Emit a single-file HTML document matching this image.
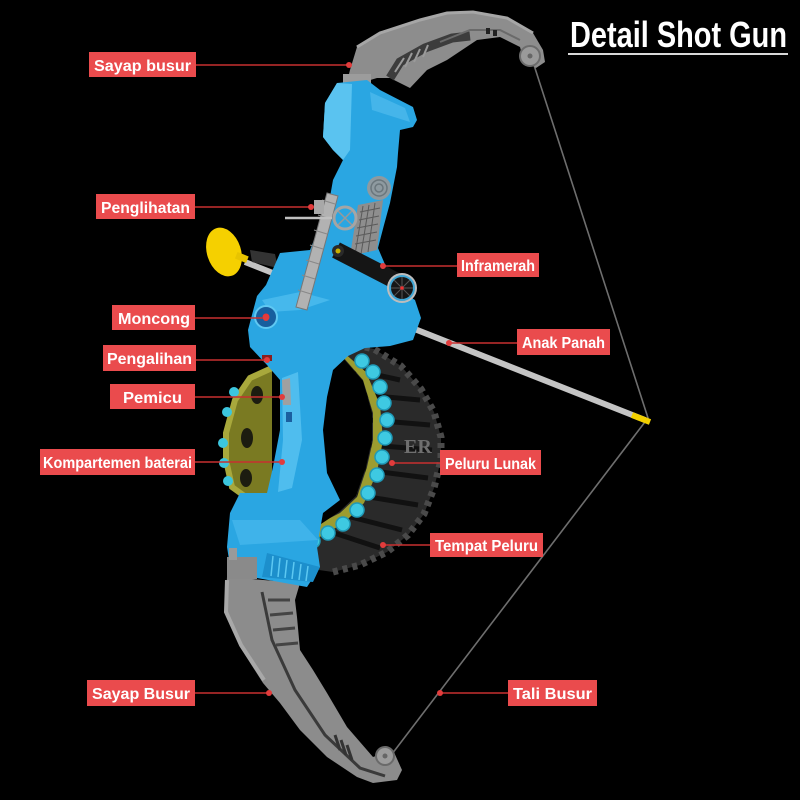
<!DOCTYPE html>
<html><head><meta charset="utf-8"><style>
html,body{margin:0;padding:0;background:#000;}
svg{display:block;}
.lb{font-family:"Liberation Sans",sans-serif;font-weight:bold;fill:#fff;font-size:16px;}
</style></head><body>
<svg width="800" height="800" viewBox="0 0 800 800" xmlns="http://www.w3.org/2000/svg">
<rect width="800" height="800" fill="#000"/>

<!-- string -->
<polyline points="533,62 648,418 392,754" fill="none" stroke="#6e6e6e" stroke-width="1.6"/>

<!-- top limb -->
<path d="M347,82 L350,70 L357,47 L380,33 L420,20 L447,13 L473,12 L507,18 L533,33 L543,50 L545,62 L536,68 L523,58 L520,47 L500,37 L477,40 L447,60 L427,70 L410,88 L390,78 L377,78 L367,81 Z" fill="#8d8d8d"/>
<path d="M357,47 L380,33 L420,20 L447,13 L473,12 L507,18 L533,33" fill="none" stroke="#a6a6a6" stroke-width="3"/>
<path d="M390,78 L400,62 L425,48 L452,38 L470,36" fill="none" stroke="#3c3c3c" stroke-width="9"/>
<path d="M395,72 L404,58 M405,67 L412,53 M414,62 L420,49 M423,57 L428,45" stroke="#9a9a9a" stroke-width="2"/>
<path d="M440,42 L470,30 L500,30 L520,40" fill="none" stroke="#6a6a6a" stroke-width="2"/>
<rect x="486" y="28" width="4" height="6" fill="#222"/><rect x="493" y="30" width="4" height="6" fill="#222"/>
<circle cx="530" cy="56" r="10" fill="#9a9a9a" stroke="#6c6c6c" stroke-width="2"/>
<circle cx="530" cy="56" r="2.5" fill="#666"/>
<rect x="343" y="74" width="28" height="12" fill="#9c9c9c"/>

<!-- bottom limb -->
<path d="M227,577 L225,612 L240,647 L263,683 L280,703 L300,730 L327,757 L357,777 L373,783 L397,780 L402,770 L393,750 L373,757 L347,727 L327,693 L313,670 L300,650 L297,617 L295,600 L300,583 Z" fill="#8c8c8c"/>
<path d="M227,580 L226,612 L241,645 L264,680" fill="none" stroke="#a8a8a8" stroke-width="4"/>
<path d="M262,592 L272,640 L295,690 L325,735 L360,768 L385,776" fill="none" stroke="#3a3a3a" stroke-width="3"/>
<path d="M268,600 L290,600 M270,615 L293,613 M273,630 L295,628 M276,645 L298,643" stroke="#444" stroke-width="3"/>
<path d="M335,735 L340,750 M341,740 L346,755 M347,745 L352,760" stroke="#333" stroke-width="3"/>
<circle cx="385" cy="756" r="9" fill="#9c9c9c" stroke="#6a6a6a" stroke-width="2"/>
<circle cx="385" cy="756" r="2.5" fill="#666"/>

<!-- wheel dark ring -->
<path d="M305,568 L333,572 L360,565 L387,552 L408,535 L424,514 L434,488 L441,460 L441,437 L434,412 L421,389 L401,366 L374,349 L343,342 L320,350 L300,545 Z" fill="#2a2a2a"/>
<path d="M333,572 L360,565 L387,552 L408,535 L424,514 L434,488 L441,460 L441,437 L434,412 L421,389 L401,366 L374,349 L343,342" fill="none" stroke="#4a4a4a" stroke-width="7" stroke-dasharray="5 5"/>
<path d="M355,370 L400,380 M365,395 L420,400 M370,420 L430,425 M370,445 L432,450 M365,470 L428,478 M357,495 L418,505 M343,515 L402,530 M325,530 L380,548" stroke="#111" stroke-width="5"/>
<!-- green band -->
<path d="M343,352 L366,372 L380,405 L383,440 L377,472 L364,503 L344,523 L318,538 L296,543 L296,535 L340,513 L357,497 L367,467 L373,440 L373,413 L363,380 L343,357 Z" fill="#9c9c30"/>
<!-- hole -->
<path d="M343,358 L363,381 L372,413 L372,440 L366,467 L356,496 L339,512 L318,526 L298,533 L300,365 Z" fill="#000"/>

<!-- left green interior -->
<path d="M272,368 L250,378 L235,400 L226,433 L226,460 L232,487 L250,500 L272,496 Z" fill="#7a7a22"/>
<path d="M272,368 L250,378 L235,400 L226,433 L226,460 L232,487 L250,500" fill="none" stroke="#a8a83c" stroke-width="6"/>
<ellipse cx="257" cy="395" rx="6" ry="9" fill="#1c1c10"/>
<ellipse cx="247" cy="438" rx="6" ry="10" fill="#1c1c10"/>
<ellipse cx="246" cy="478" rx="6" ry="9" fill="#1c1c10"/>
<g fill="#3cc6de">
<circle cx="234" cy="392" r="5"/><circle cx="227" cy="412" r="5"/><circle cx="223" cy="443" r="5"/><circle cx="224" cy="463" r="5"/><circle cx="228" cy="481" r="5"/>
</g>

<!-- cyan dart tips -->
<g fill="#3ec9e2" stroke="#1f9ab8" stroke-width="1.5">
<circle cx="362" cy="361" r="7"/><circle cx="373" cy="372" r="7"/><circle cx="380" cy="387" r="7"/><circle cx="384" cy="403" r="7"/><circle cx="387" cy="420" r="7"/><circle cx="385" cy="438" r="7"/><circle cx="382" cy="457" r="7"/><circle cx="377" cy="475" r="7"/><circle cx="368" cy="493" r="7"/><circle cx="357" cy="510" r="7"/><circle cx="343" cy="524" r="7"/><circle cx="328" cy="533" r="7"/><circle cx="313" cy="541" r="7"/><circle cx="300" cy="545" r="7"/>
</g>
<text x="404" y="453" font-family="Liberation Serif,serif" font-size="20" fill="#6f6f6f" font-weight="bold">ER</text>

<!-- arrow -->
<line x1="245" y1="262" x2="645" y2="420" stroke="#c4c4c4" stroke-width="6"/>
<line x1="632" y1="415" x2="650" y2="422" stroke="#f2d000" stroke-width="6"/>
<ellipse cx="224" cy="252" rx="17" ry="25" transform="rotate(-18 224 252)" fill="#f5d000"/>
<rect x="236" y="254" width="12" height="7" fill="#e8c400" transform="rotate(22 242 257)"/>
<path d="M250,250 L275,254 L278,268 L252,262 Z" fill="#333"/>

<!-- blue body -->
<path d="M337,83 L367,80 L380,90 L413,107 L417,120 L413,127 L400,130 L398,153 L397,167 L390,203 L384,225 L378,248 L395,288 L415,300 L421,318 L413,340 L390,346 L365,348 L348,356 L333,370 L327,397 L323,430 L327,473 L340,500 L323,513 L317,547 L320,567 L307,587 L257,578 L230,566 L227,547 L230,513 L240,493 L267,493 L273,467 L280,430 L280,380 L267,365 L250,347 L248,330 L257,296 L266,285 L280,253 L310,250 L320,225 L330,197 L333,180 L343,160 L333,150 L323,137 L325,103 Z" fill="#2aa6e2"/>
<!-- highlights -->
<path d="M337,83 L352,84 L350,150 L343,160 L333,150 L323,137 L325,103 Z" fill="#5ac3f0"/>
<path d="M282,378 L298,372 L302,440 L292,488 L278,492 L283,440 Z" fill="#4fbdee"/>
<path d="M370,92 L405,108 L410,122 L372,110 Z" fill="#45b5ea"/>
<path d="M262,300 L300,292 L330,300 L300,310 L270,312 Z" fill="#46b8ec"/>
<path d="M232,520 L300,520 L318,540 L240,545 Z" fill="#3fb3ea"/>
<!-- lower grille -->
<path d="M267,553 L320,567 L313,582 L262,577 Z" fill="#1c8fcc"/>
<path d="M273,556 L271,576 M280,558 L278,577 M287,560 L285,578 M294,562 L292,579 M301,564 L299,580 M308,566 L306,581" stroke="#5cc8f2" stroke-width="1.5"/>
<rect x="227" y="557" width="30" height="22" fill="#8a8a8a"/>
<rect x="229" y="548" width="8" height="12" fill="#9a9a9a"/>
<!-- target emblem -->
<circle cx="379" cy="188" r="12" fill="#8e9aa0"/>
<circle cx="379" cy="188" r="8" fill="none" stroke="#6a767c" stroke-width="1.5"/>
<circle cx="379" cy="188" r="4" fill="none" stroke="#6a767c" stroke-width="1.5"/>
<!-- grid panel -->
<path d="M358,205 L383,200 L377,250 L350,256 Z" fill="#8e8e8e"/>
<path d="M360,212 L380,208 M359,220 L379,216 M357,228 L378,224 M356,236 L377,232 M355,244 L376,240 M363,206 L355,255 M369,205 L361,254 M375,203 L368,252" stroke="#5a5a5a" stroke-width="1"/>
<!-- muzzle -->
<circle cx="266" cy="317" r="11" fill="#175e9e" stroke="#5fc8f2" stroke-width="2"/>
<circle cx="266" cy="317" r="3.5" fill="#e33"/>
<rect x="262" y="355" width="10" height="6" fill="#8a1e1e"/>
<!-- trigger -->
<path d="M282,380 L290,378 L291,405 L283,405 Z" fill="#a0a0a0"/>
<rect x="286" y="412" width="6" height="10" fill="#1a5fa0"/>
<!-- laser -->
<line x1="336" y1="250" x2="398" y2="282" stroke="#151515" stroke-width="17"/>
<circle cx="338" cy="251" r="6" fill="#2a2a2a"/>
<circle cx="338" cy="251" r="2.5" fill="#c8b000"/>
<circle cx="402" cy="288" r="15" fill="#bdbdbd"/>
<circle cx="402" cy="288" r="12" fill="#161616" stroke="#3fa7d6" stroke-width="2"/>
<path d="M402,277 L402,299 M391,288 L413,288 M394,280 L410,296 M410,280 L394,296" stroke="#555" stroke-width="1"/>
<circle cx="402" cy="288" r="1.8" fill="#e33"/>
<!-- sight -->
<path d="M327,193 L338,196 L307,310 L296,307 Z" fill="#b2b2b2" stroke="#777" stroke-width="1"/>
<path d="M322,200 L335,204 M318,215 L331,219 M314,230 L327,234 M310,245 L323,249 M306,260 L319,264 M302,275 L315,279 M298,290 L311,294" stroke="#888" stroke-width="1"/>
<line x1="285" y1="218" x2="332" y2="218" stroke="#c0c0c0" stroke-width="2.5"/>
<circle cx="345" cy="218" r="11" fill="none" stroke="#a5a5a5" stroke-width="3"/>
<path d="M338,211 L352,225 M352,211 L338,225" stroke="#999" stroke-width="1.5"/>
<rect x="314" y="200" width="10" height="14" fill="#a8a8a8"/>

<!-- title -->
<text x="570" y="47" font-family="Liberation Sans,sans-serif" font-weight="bold" font-size="36" fill="#fff" textLength="217" lengthAdjust="spacingAndGlyphs">Detail Shot Gun</text>
<rect x="568" y="53" width="220" height="2" fill="#d8d8d8"/>

<!-- connector lines -->
<g stroke="#c83030" stroke-width="1.6">
<line x1="196" y1="65" x2="349" y2="65"/>
<line x1="195" y1="207" x2="311" y2="207"/>
<line x1="195" y1="318" x2="266" y2="318"/>
<line x1="196" y1="360" x2="267" y2="360"/>
<line x1="195" y1="397" x2="282" y2="397"/>
<line x1="195" y1="462" x2="282" y2="462"/>
<line x1="383" y1="266" x2="457" y2="266"/>
<line x1="449" y1="343" x2="517" y2="343"/>
<line x1="392" y1="463" x2="440" y2="463"/>
<line x1="383" y1="545" x2="430" y2="545"/>
<line x1="195" y1="693" x2="269" y2="693"/>
<line x1="440" y1="693" x2="508" y2="693"/>
</g>
<g fill="#e23c3c">
<circle cx="349" cy="65" r="3"/><circle cx="311" cy="207" r="3"/><circle cx="266" cy="318" r="3"/><circle cx="267" cy="360" r="3"/><circle cx="282" cy="397" r="3"/><circle cx="282" cy="462" r="3"/><circle cx="383" cy="266" r="3"/><circle cx="449" cy="343" r="3"/><circle cx="392" cy="463" r="3"/><circle cx="383" cy="545" r="3"/><circle cx="269" cy="693" r="3"/><circle cx="440" cy="693" r="3"/>
</g>

<!-- labels -->
<g fill="#ea4b4d">
<rect x="89" y="52" width="107" height="25"/>
<rect x="96" y="194" width="99" height="25"/>
<rect x="112" y="305" width="83" height="25"/>
<rect x="103" y="345" width="93" height="26"/>
<rect x="110" y="384" width="85" height="25"/>
<rect x="40" y="449" width="155" height="26"/>
<rect x="457" y="253" width="82" height="24"/>
<rect x="517" y="329" width="93" height="26"/>
<rect x="440" y="450" width="101" height="25"/>
<rect x="430" y="533" width="113" height="24"/>
<rect x="87" y="680" width="108" height="26"/>
<rect x="508" y="680" width="89" height="26"/>
</g>
<g class="lb">
<text x="94" y="71" textLength="97" lengthAdjust="spacingAndGlyphs">Sayap busur</text>
<text x="101" y="213" textLength="89" lengthAdjust="spacingAndGlyphs">Penglihatan</text>
<text x="118" y="324" textLength="72" lengthAdjust="spacingAndGlyphs">Moncong</text>
<text x="107" y="364" textLength="85" lengthAdjust="spacingAndGlyphs">Pengalihan</text>
<text x="123" y="403" textLength="59" lengthAdjust="spacingAndGlyphs">Pemicu</text>
<text x="43" y="468" textLength="149" lengthAdjust="spacingAndGlyphs">Kompartemen baterai</text>
<text x="461" y="271" textLength="74" lengthAdjust="spacingAndGlyphs">Inframerah</text>
<text x="522" y="348" textLength="83" lengthAdjust="spacingAndGlyphs">Anak Panah</text>
<text x="445" y="469" textLength="91" lengthAdjust="spacingAndGlyphs">Peluru Lunak</text>
<text x="435" y="551" textLength="103" lengthAdjust="spacingAndGlyphs">Tempat Peluru</text>
<text x="92" y="699" textLength="98" lengthAdjust="spacingAndGlyphs">Sayap Busur</text>
<text x="513" y="699" textLength="79" lengthAdjust="spacingAndGlyphs">Tali Busur</text>
</g>
</svg>
</body></html>
